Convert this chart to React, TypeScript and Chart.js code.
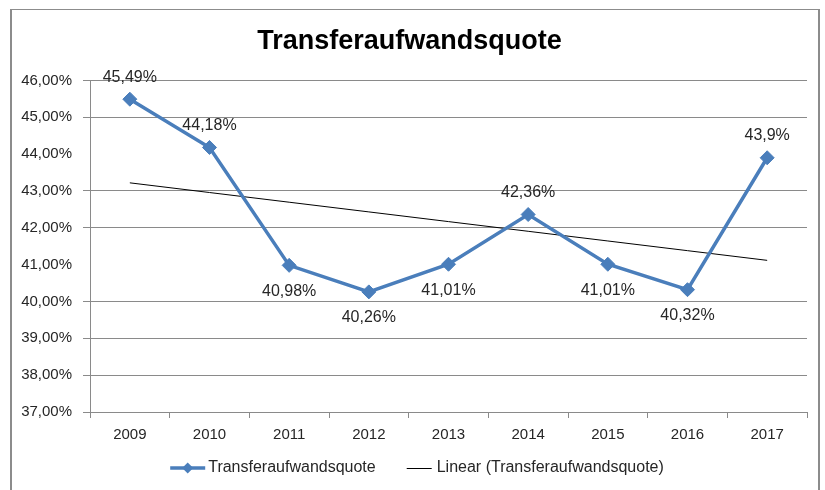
import { useEffect, useRef } from "react";
import { Chart, registerables } from "chart.js";

Chart.register(...registerables);

const chartTitle = "Transferaufwandsquote";
const years = ["2009", "2010", "2011", "2012", "2013", "2014", "2015", "2016", "2017"];
const quote = [45.49, 44.18, 40.98, 40.26, 41.01, 42.36, 41.01, 40.32, 43.9];
const valueLabels = ["45,49%", "44,18%", "40,98%", "40,26%", "41,01%", "42,36%", "41,01%", "40,32%", "43,9%"];
const seriesName = "Transferaufwandsquote";
const trendName = "Linear (Transferaufwandsquote)";
const yMin = 37;
const yMax = 46;
const yStep = 1;

// Excel-style linear trendline (least squares over category index)
function linearTrend(values: number[]): number[] {
  const n = values.length;
  const xs = values.map((_, i) => i + 1);
  const mx = xs.reduce((a, b) => a + b, 0) / n;
  const my = values.reduce((a, b) => a + b, 0) / n;
  let num = 0;
  let den = 0;
  xs.forEach((x, i) => {
    num += (x - mx) * (values[i] - my);
    den += (x - mx) * (x - mx);
  });
  const slope = num / den;
  const icpt = my - slope * mx;
  return xs.map((x) => icpt + slope * x);
}
const trend = linearTrend(quote);

const FONT = '"Liberation Sans", Arial, sans-serif';
const BLUE = "#4A7EBB";
const GRID = "#8a8a8a";
const TEXT = "#262626";
const labelAbove = [true, true, false, false, false, true, false, false, true];

const dataLabelPlugin = {
  id: "dataLabels",
  afterDatasetsDraw(chart: any) {
    const meta = chart.getDatasetMeta(0);
    const ctx = chart.ctx;
    ctx.save();
    ctx.font = `16px ${FONT}`;
    ctx.fillStyle = TEXT;
    ctx.textAlign = "center";
    ctx.textBaseline = "middle";
    meta.data.forEach((pt: any, i: number) => {
      const dy = labelAbove[i] ? -22 : 26;
      ctx.fillText(valueLabels[i], pt.x, pt.y + dy);
    });
    ctx.restore();
  },
};

const legendPlugin = {
  id: "customLegend",
  afterDraw(chart: any) {
    const ctx = chart.ctx;
    ctx.save();
    ctx.font = `16px ${FONT}`;
    const w1 = ctx.measureText(seriesName).width;
    const w2 = ctx.measureText(trendName).width;
    const l1 = 35, g1 = 3, gap = 31, l2 = 25, g2 = 5;
    const total = l1 + g1 + w1 + gap + l2 + g2 + w2;
    let x = (chart.width - total) / 2 + 2;
    const y = 458;
    // series sample
    ctx.strokeStyle = BLUE;
    ctx.lineWidth = 3.5;
    ctx.beginPath();
    ctx.moveTo(x, y);
    ctx.lineTo(x + l1, y);
    ctx.stroke();
    const cx = x + l1 / 2;
    const r = 5.5;
    ctx.fillStyle = BLUE;
    ctx.beginPath();
    ctx.moveTo(cx - r, y);
    ctx.lineTo(cx, y - r);
    ctx.lineTo(cx + r, y);
    ctx.lineTo(cx, y + r);
    ctx.closePath();
    ctx.fill();
    x += l1 + g1;
    ctx.fillStyle = TEXT;
    ctx.textAlign = "left";
    ctx.textBaseline = "middle";
    ctx.fillText(seriesName, x, y);
    x += w1 + gap;
    ctx.strokeStyle = "#000";
    ctx.lineWidth = 1;
    ctx.beginPath();
    ctx.moveTo(x, y + 0.5);
    ctx.lineTo(x + l2, y + 0.5);
    ctx.stroke();
    x += l2 + g2;
    ctx.fillText(trendName, x, y);
    ctx.restore();
  },
};

export default function App() {
  const ref = useRef<HTMLCanvasElement>(null);
  useEffect(() => {
    if (!ref.current) return;
    const hidden = (v: number) => v === 44 || v === 41;
    const chart = new Chart(ref.current, {
      type: "line",
      data: {
        labels: years,
        datasets: [
          {
            label: seriesName,
            data: quote,
            borderColor: BLUE,
            backgroundColor: BLUE,
            borderWidth: 3.5,
            pointStyle: "rectRot",
            pointRadius: 7,
            pointHoverRadius: 7,
            pointBackgroundColor: BLUE,
            pointBorderColor: BLUE,
            pointBorderWidth: 1,
            tension: 0,
            order: 1,
          },
          {
            label: trendName,
            data: trend,
            borderColor: "#000",
            borderWidth: 1,
            pointRadius: 0,
            pointHoverRadius: 0,
            fill: false,
            order: 2,
          },
        ],
      },
      options: {
        responsive: false,
        animation: false,
        events: [],
        layout: { padding: { left: 0, right: 11, top: 0, bottom: 33 } },
        plugins: {
          legend: { display: false },
          tooltip: { enabled: false },
          title: {
            display: true,
            text: chartTitle,
            color: "#000",
            font: { family: FONT, size: 27, weight: "bold" },
            padding: { top: 15, bottom: 23 },
          },
        },
        scales: {
          x: {
            type: "category",
            offset: true,
            afterFit: (s: any) => {
              s.height = 45;
            },
            grid: {
              offset: true,
              drawOnChartArea: false,
              drawTicks: true,
              tickLength: 6,
              color: GRID,
            },
            border: { display: true, color: GRID, width: 1 },
            ticks: {
              color: TEXT,
              font: { family: FONT, size: 15 },
              padding: 8,
              maxRotation: 0,
            },
          },
          y: {
            min: yMin,
            max: yMax,
            afterFit: (s: any) => {
              s.width = 78;
            },
            grid: {
              color: (c: any) => (c.tick && hidden(c.tick.value) ? "rgba(0,0,0,0)" : GRID),
              lineWidth: 1,
              drawTicks: true,
              tickLength: 7,
            },
            border: { display: true, color: GRID, width: 1 },
            ticks: {
              stepSize: yStep,
              color: TEXT,
              font: { family: FONT, size: 15 },
              padding: 11,
              callback: (v: any) => Number(v).toFixed(2).replace(".", ",") + "%",
            },
          },
        },
      },
      plugins: [dataLabelPlugin, legendPlugin],
    });
    return () => chart.destroy();
  }, []);

  return (
    <div
      style={{
        position: "absolute",
        left: 10,
        top: 9,
        width: 810,
        height: 490,
        boxSizing: "border-box",
        borderLeft: "2px solid #8c8c8c",
        borderTop: "1px solid #8c8c8c",
        borderRight: "2px solid #8c8c8c",
        background: "#fff",
      }}
    >
      <canvas ref={ref} width={806} height={480} style={{ display: "block" }} />
    </div>
  );
}
